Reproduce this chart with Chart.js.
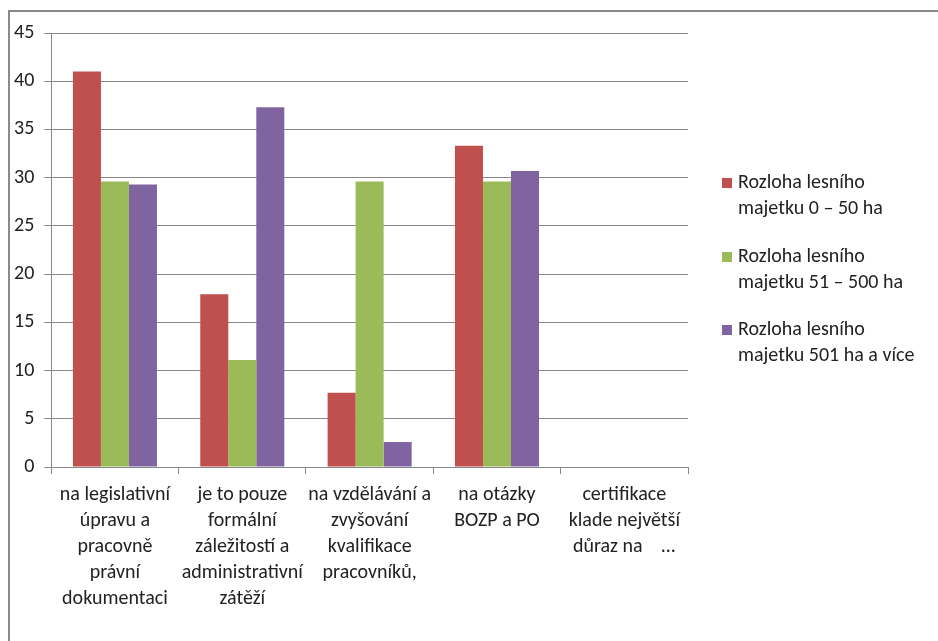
<!DOCTYPE html>
<html>
<head>
<meta charset="utf-8">
<script src="https://cdn.jsdelivr.net/npm/chart.js@4"></script>
<style>
  html, body { margin: 0; padding: 0; background: #fff; }
  #wrap { position: relative; width: 938px; height: 641px; }
  #frame { position: absolute; left: 8px; top: 10px; width: 940px; height: 640px;
           border-left: 2px solid #8a8a8a; border-top: 2px solid #8a8a8a; box-sizing: border-box; }
  canvas { position: absolute; left: 0; top: 0; }
</style>
</head>
<body>
<div id="wrap">
  <div id="frame"></div>
  <canvas id="myChart" width="938" height="641"></canvas>
</div>
<script>
const categories = [
  ['na legislativní', 'úpravu a', 'pracovně', 'právní', 'dokumentaci'],
  ['je to pouze', 'formální', 'záležitostí a', 'administrativní', 'zátěží'],
  ['na vzdělávání a', 'zvyšování', 'kvalifikace', 'pracovníků,'],
  ['na otázky', 'BOZP a PO'],
  ['certifikace', 'klade největší', 'důraz na    ...']
];
const seriesNames = [
  ['Rozloha lesního', 'majetku 0 – 50 ha'],
  ['Rozloha lesního', 'majetku 51 – 500 ha'],
  ['Rozloha lesního', 'majetku 501 ha a více']
];
const small = [41.0, 17.9, 7.7, 33.3, 0];
const medium = [29.6, 11.1, 29.6, 29.6, 0];
const large = [29.3, 37.3, 2.6, 30.7, 0];
const colors = ['#c0504d', '#9bbb59', '#8064a2'];

const fontFamily = "'Carlito', 'Liberation Sans Narrow', 'Lato', sans-serif";

// legend drawn by hand so the labels can wrap onto two lines
const sideLegend = {
  id: 'sideLegend',
  afterDraw(chart) {
    const ctx = chart.ctx;
    const tops = [183, 257, 330];
    ctx.save();
    ctx.font = '20px ' + fontFamily;
    ctx.textBaseline = 'middle';
    chart.data.datasets.forEach((ds, i) => {
      const y = tops[i];
      ctx.fillStyle = ds.backgroundColor;
      ctx.fillRect(722, y - 5, 10, 10);
      ctx.fillStyle = '#222';
      ds.label.forEach((line, j) => ctx.fillText(line, 738, y + j * 26));
    });
    ctx.restore();
  }
};

new Chart(document.getElementById('myChart'), {
  type: 'bar',
  data: {
    labels: categories,
    datasets: [
      { label: seriesNames[0], data: small, backgroundColor: colors[0] },
      { label: seriesNames[1], data: medium, backgroundColor: colors[1] },
      { label: seriesNames[2], data: large, backgroundColor: colors[2] }
    ]
  },
  options: {
    responsive: false,
    animation: false,
    layout: { padding: { left: 4, top: 33, right: 250, bottom: 21 } },
    plugins: { legend: { display: false }, tooltip: { enabled: false } },
    datasets: { bar: { categoryPercentage: 0.66, barPercentage: 1.0 } },
    scales: {
      x: {
        grid: { display: true, drawOnChartArea: false, offset: true, tickLength: 7, color: '#888' },
        border: { color: '#888' },
        ticks: { color: '#222', maxRotation: 0, autoSkip: false, padding: 8,
                 font: { family: fontFamily, size: 20, lineHeight: 1.3 } }
      },
      y: {
        min: 0, max: 45,
        grid: { color: '#888', tickLength: 7 },
        border: { color: '#888' },
        ticks: { stepSize: 5, color: '#222', padding: 10,
                 font: { family: fontFamily, size: 20 } }
      }
    }
  },
  plugins: [sideLegend]
});
</script>
</body>
</html>
